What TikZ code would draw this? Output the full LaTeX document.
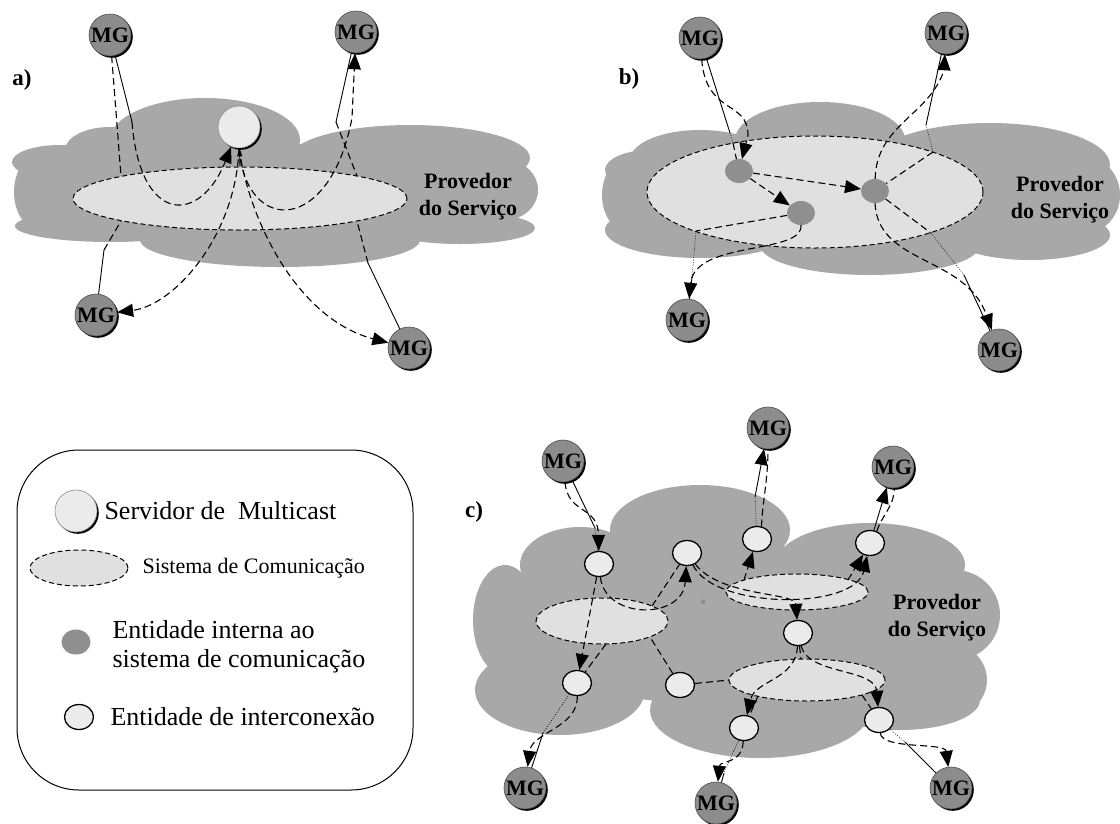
\documentclass[tikz,border=0pt]{standalone}
\usepackage{fontspec}
\setmainfont{Liberation Serif}
\usetikzlibrary{arrows.meta,shapes.geometric,shadows}
\definecolor{cloudgray}{gray}{0.66}
\definecolor{mggray}{gray}{0.55}
\definecolor{innergray}{gray}{0.56}
\definecolor{ellfill}{gray}{0.88}
\definecolor{lightfill}{gray}{0.92}
\begin{document}
\begin{tikzpicture}[x=1pt,y=-1pt,
  blackshadow/.style={drop shadow={shadow xshift=1.8pt,shadow yshift=-1.8pt,fill=black,opacity=1}},
  mg/.style={circle,minimum size=42pt,inner sep=0pt,fill=mggray,draw=black!70,line width=0.6pt,
    font=\fontsize{22}{22}\selectfont\bfseries,blackshadow},
  srv/.style={circle,minimum size=42pt,inner sep=0pt,fill=lightfill,draw=black!45,line width=0.6pt,blackshadow},
  innerent/.style={ellipse,minimum width=28pt,minimum height=24pt,inner sep=0pt,fill=innergray},
  linkent/.style={ellipse,minimum width=29pt,minimum height=25pt,inner sep=0pt,fill=lightfill,draw=black,line width=1.3pt},
  sysell/.style={ellipse,inner sep=0pt,fill=ellfill,draw=black,line width=1pt,dash pattern=on 5pt off 3pt},
  solidln/.style={line width=0.9pt},
  dashln/.style={line width=1.1pt,dash pattern=on 7pt off 4pt},
  dotln/.style={line width=0.6pt,dash pattern=on 0.8pt off 1.6pt},
  tip/.style={-{Triangle[length=16pt,width=13pt]}},
  smalltip/.style={-{Triangle[length=8pt,width=5pt]}},
  prov/.style={align=center,font=\fontsize{22}{27}\selectfont\bfseries},
  panel/.style={font=\fontsize{23}{23}\selectfont\bfseries},
  legtext/.style={anchor=west,align=left,font=\fontsize{26}{29}\selectfont},
]
\useasboundingbox (0,0) rectangle (1120,823);

% ---------- clouds (service provider) ----------
\fill[cloudgray]
  (276,192) ellipse [x radius=262, y radius=48]
  (205,140) ellipse [x radius=95, y radius=42]
  (110,150) ellipse [x radius=45, y radius=23]
  (60,162) ellipse [x radius=48, y radius=17]
  (410,158) ellipse [x radius=120, y radius=33]
  (110,226) ellipse [x radius=95, y radius=16]
  (280,240) ellipse [x radius=140, y radius=27]
  (460,228) ellipse [x radius=75, y radius=16]
  (505,190) ellipse [x radius=33, y radius=30]
  (40,192) ellipse [x radius=26, y radius=38];
\fill[cloudgray]
  (860,195) ellipse [x radius=257, y radius=55]
  (820,140) ellipse [x radius=85, y radius=38]
  (700,160) ellipse [x radius=70, y radius=30]
  (650,170) ellipse [x radius=45, y radius=20]
  (990,165) ellipse [x radius=120, y radius=42]
  (700,230) ellipse [x radius=95, y radius=28]
  (870,245) ellipse [x radius=110, y radius=30]
  (1030,235) ellipse [x radius=80, y radius=25]
  (630,195) ellipse [x radius=28, y radius=38]
  (1085,195) ellipse [x radius=35, y radius=38];
\fill[cloudgray]
  (737,625) ellipse [x radius=255, y radius=80]
  (700,530) ellipse [x radius=90, y radius=45]
  (580,565) ellipse [x radius=60, y radius=38]
  (870,565) ellipse [x radius=95, y radius=42]
  (955,615) ellipse [x radius=45, y radius=45]
  (940,680) ellipse [x radius=47, y radius=40]
  (560,690) ellipse [x radius=85, y radius=45]
  (760,710) ellipse [x radius=110, y radius=48]
  (900,700) ellipse [x radius=80, y radius=30]
  (505,620) ellipse [x radius=32, y radius=55];

\node[panel] (la) at (22,80) {a)};
\node[panel] (lb) at (629,79) {b)};
\node[panel] (lc) at (474,512) {c)};

\node[prov] (pa) at (468,197) {Provedor\\do Serviço};
\node[prov] (pb) at (1060,200) {Provedor\\do Serviço};
\node[prov] (pc) at (937,618) {Provedor\\do Serviço};

% ---------- a) central multicast server ----------
\node[sysell,minimum width=334pt,minimum height=63pt] (ella) at (240,198.5) {};
\node[srv] (srv) at (239,127) {};
\node[mg] (mga1) at (110,35) {MG};
\node[mg] (mga2) at (356,32) {MG};
\node[mg] (mga3) at (96,315) {MG};
\node[mg] (mga4) at (409,348) {MG};

\coordinate (a1k) at (132,122);
\coordinate (a1e) at (121,176);
\coordinate (a2k) at (336,122);
\coordinate (a2e) at (357,176);
\coordinate (a3k) at (104,250);
\coordinate (a3e) at (121,221);
\coordinate (a4k) at (368,263);
\coordinate (a4e) at (357,221);
\coordinate (a0e) at (240,167);

\draw[solidln] (mga1) -- (a1k);
\draw[dashln] (mga1) -- (a1e);
\draw[dashln,tip] (a1k) .. controls (140,225) and (200,225) .. (srv);
\draw[solidln] (mga2) -- (a2k);
\draw[dashln] (a2k) -- (a2e);
\draw[dashln,tip] (srv.south) .. controls (246,235) and (330,235) .. (352,118) -- (mga2);
\draw[solidln,smalltip] (a0e) -- (srv);
\draw[solidln] (mga3) -- (a3k);
\draw[dashln] (a3k) -- (a3e);
\draw[dashln,tip] (srv.south) .. controls (236,235) and (175,305) .. (mga3);
\draw[solidln] (mga4) -- (a4k);
\draw[dashln] (a4k) -- (a4e);
\draw[dashln,tip] (srv.south) .. controls (250,225) and (300,320) .. (mga4);

% ---------- b) entities inside the communication system ----------
\node[sysell,minimum width=336pt,minimum height=112pt] (ellb) at (815,192) {};
\node[innerent] (e1) at (739,171) {};
\node[innerent] (e2) at (801,213) {};
\node[innerent] (e3) at (875,191) {};
\node[mg] (mgb1) at (700,38) {MG};
\node[mg] (mgb2) at (946,33) {MG};
\node[mg] (mgb3) at (687,320) {MG};
\node[mg] (mgb4) at (999,350) {MG};

\coordinate (b1k) at (730,133);
\coordinate (b1e) at (733,143);
\coordinate (b2k) at (926,125);
\coordinate (b2e) at (933,152);
\coordinate (b3e) at (696,231);
\coordinate (b3k) at (692,277);
\coordinate (b4e) at (931,233);
\coordinate (b4k) at (964,275);

\draw[solidln] (mgb1) -- (b1k);
\draw[dotln] (b1k) -- (b1e);
\draw[dashln] (b1e) -- (e1);
\draw[dashln,tip] (mgb1) .. controls (706,115) and (748,100) .. (748,135) -- (e1);
\draw[dashln,tip] (e1) -- (e2);
\draw[dashln,tip] (e1) -- (e3);
\draw[dashln,tip] (e3) .. controls (876,125) and (930,115) .. (944,70) -- (mgb2);
\draw[solidln] (mgb2) -- (b2k);
\draw[dotln] (b2k) -- (b2e);
\draw[dashln] (b2e) -- (e3);
\draw[dashln] (e2) -- (b3e);
\draw[dotln] (b3e) -- (b3k);
\draw[solidln] (b3k) -- (mgb3);
\draw[dashln,tip] (e2.south) .. controls (803,255) and (695,240) .. (mgb3);
\draw[dashln] (e3) -- (b4e);
\draw[dotln] (b4e) -- (b4k);
\draw[solidln] (b4k) -- (mgb4);
\draw[dashln,tip] (e3.south) .. controls (878,265) and (965,255) .. (mgb4);

% ---------- c) interconnection entities ----------
\node[sysell,minimum width=132pt,minimum height=46pt] (ec1) at (602,621) {};
\node[sysell,minimum width=142pt,minimum height=36pt] (ec2) at (797,592) {};
\node[sysell,minimum width=156pt,minimum height=42pt] (ec3) at (807,680) {};
\fill[innergray] (703,602) circle [radius=2.5];
\node[linkent] (i1) at (599,564) {};
\node[linkent] (i2) at (687,553) {};
\node[linkent] (i3) at (757,539) {};
\node[linkent] (i4) at (870,543) {};
\node[linkent] (i5) at (798,633) {};
\node[linkent] (i6) at (577,683) {};
\node[linkent] (i7) at (680,685) {};
\node[linkent] (i8) at (744,728) {};
\node[linkent] (i9) at (879,720) {};
\node[mg] (mgc1) at (563,461) {MG};
\node[mg] (mgc2) at (768,428) {MG};
\node[mg] (mgc3) at (893,467) {MG};
\node[mg] (mgc4) at (525,788) {MG};
\node[mg] (mgc5) at (716,803) {MG};
\node[mg] (mgc6) at (951,788) {MG};

\coordinate (c1k) at (595,528);
\coordinate (c2k) at (755,497);
\coordinate (c4k) at (543,733);
\coordinate (c5k) at (724,773);
\coordinate (c6k) at (905,742);
\coordinate (x1) at (652,606);
\coordinate (x2) at (606,644);
\coordinate (x3) at (744,580);
\coordinate (x4) at (848,580);
\coordinate (x5) at (801,659);
\coordinate (x6) at (758,696);
\coordinate (x7) at (862,695);
\coordinate (x8) at (729,680);
\coordinate (x9) at (650,637);

\draw[solidln] (mgc1) -- (c1k);
\draw[dotln] (c1k) -- (i1);
\draw[dashln,tip] (mgc1) .. controls (568,515) and (598,505) .. (i1);
\draw[dashln,tip] (i1) .. controls (605,620) and (683,620) .. (i2);
\draw[dashln] (x1) -- (i2);
\draw[dashln,tip] (i1) -- (i6);
\draw[dashln] (x2) -- (i6);
\draw[dotln] (i6) -- (c4k);
\draw[solidln] (c4k) -- (mgc4);
\draw[dashln,tip] (i6) .. controls (578,728) and (532,732) .. (mgc4);
\draw[dashln,tip] (i2) .. controls (720,597) and (795,592) .. (i5);
\draw[dashln,tip] (i2) .. controls (715,610) and (855,610) .. (i4);
\draw[dashln,tip] (x3) -- (i3);
\draw[dashln,tip] (x4) -- (i4);
\draw[dotln] (i3) -- (c2k);
\draw[solidln,tip] (c2k) -- (mgc2);
\draw[dashln] (i3.70) .. controls (762,505) and (768,480) .. (mgc2);
\draw[solidln,tip] (i4) -- (mgc3);
\draw[dashln] (i4.60) .. controls (882,515) and (895,505) .. (mgc3);
\draw[dashln] (i5) -- (x5);
\draw[dashln,tip] (i5) .. controls (796,680) and (755,680) .. (i8);
\draw[dashln] (x6) -- (i8);
\draw[dashln,tip] (i5) .. controls (808,675) and (875,668) .. (i9);
\draw[dashln] (x7) -- (i9);
\draw[dashln] (i7) -- (x8);
\draw[dashln] (i7) -- (x9);
\draw[dotln] (i8) -- (c5k);
\draw[solidln] (c5k) -- (mgc5);
\draw[dashln,tip] (i8) .. controls (742,765) and (720,760) .. (mgc5);
\draw[dotln] (i9) -- (c6k);
\draw[solidln] (c6k) -- (mgc6);
\draw[dashln,tip] (i9) .. controls (882,750) and (945,742) .. (mgc6);

% ---------- legend ----------
\draw[line width=1pt,rounded corners=62pt] (17,450) rectangle (413,790);
\node[srv] (lsrv) at (76,511) {};
\node[legtext] (tsrv) at (101,511) {Servidor de\ \ Multicast};
\node[sysell,minimum width=98pt,minimum height=36pt] (lell) at (79,568) {};
\node[legtext,font=\fontsize{22}{22}\selectfont] (tell) at (139,568) {Sistema de Comunicação};
\node[innerent,minimum width=29pt,minimum height=25pt] (linn) at (76,642) {};
\node[legtext] (tinn) at (109,647) {Entidade interna ao\\sistema de comunicação};
\node[linkent] (llnk) at (79,717) {};
\node[legtext] (tlnk) at (107,717) {Entidade de interconexão};
\end{tikzpicture}
\end{document}
